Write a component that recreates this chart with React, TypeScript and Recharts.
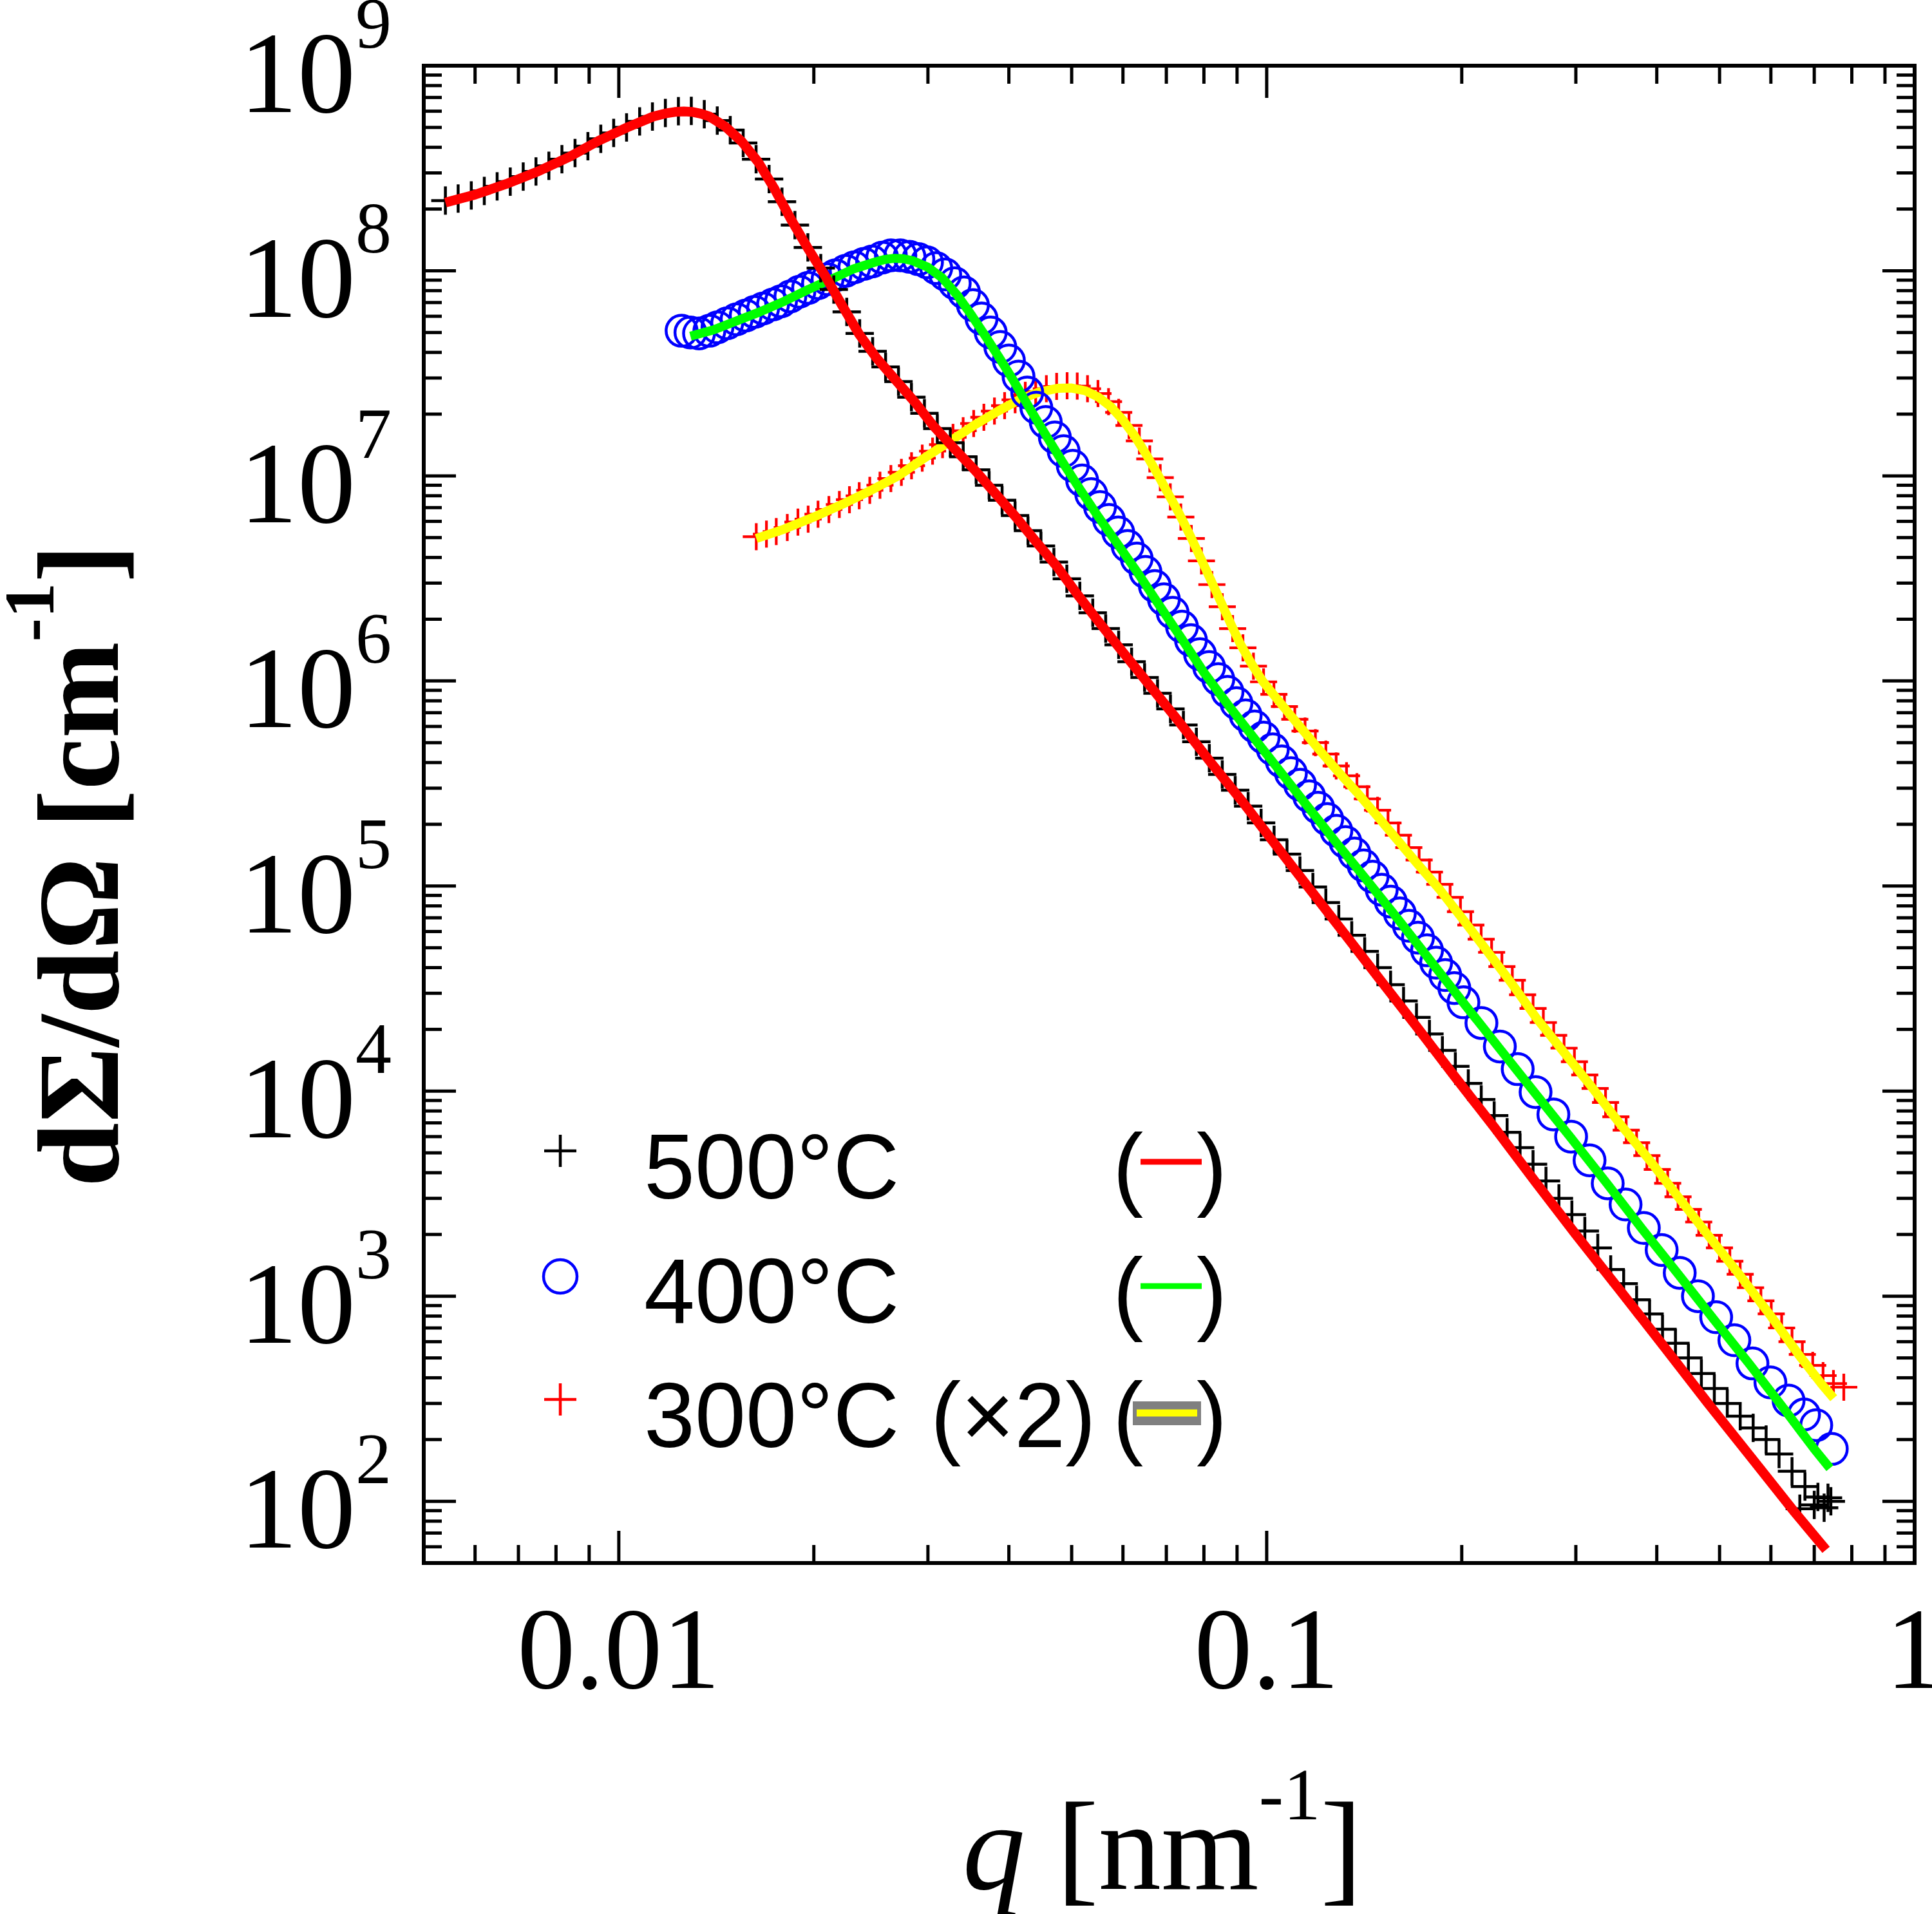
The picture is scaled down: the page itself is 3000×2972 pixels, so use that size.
import React from 'react';
import { ComposedChart, XAxis, YAxis, Scatter } from 'recharts';

const W = 3000;
const H = 2972;
const SERIF = "'Liberation Serif', 'Times New Roman', serif";
const SANS = "'Liberation Sans', Arial, sans-serif";

// ---- axis ticks ----
const xMajorTicks = [0.01, 0.1, 1];
const xMajorLabels = ['0.01', '0.1', '1'];
const minorMultipliers = [2, 3, 4, 5, 6, 7, 8, 9];
const xMinorDecades = [0.001, 0.01, 0.1];
const yMajorTicks = [1e2, 1e3, 1e4, 1e5, 1e6, 1e7, 1e8, 1e9];
const yMajorExponents = ['2', '3', '4', '5', '6', '7', '8', '9'];
const yMinorDecades = [10, 1e2, 1e3, 1e4, 1e5, 1e6, 1e7, 1e8];

const xMinorTicks: number[] = [];
xMinorDecades.forEach((d) => minorMultipliers.forEach((m) => {
  const v = d * m;
  if (v > 0.0051 && v < 1) xMinorTicks.push(v);
}));
const yMinorTicks: number[] = [];
yMinorDecades.forEach((d) => minorMultipliers.forEach((m) => {
  const v = d * m;
  if (v > 51 && v < 1e9) yMinorTicks.push(v);
}));
const xTicks = [...xMinorTicks, ...xMajorTicks];
const yTicks = [...yMinorTicks, ...yMajorTicks];

// ---- 500 °C data (black +) ----
const q500 = [0.0054, 0.00565, 0.00592, 0.0062, 0.00649, 0.0068, 0.00712, 0.00745, 0.0078, 0.00817, 0.00856, 0.00896, 0.00938, 0.00982, 0.01028, 0.01077, 0.01127, 0.0118, 0.01236, 0.01294, 0.01355, 0.01419, 0.01486, 0.01556, 0.01629, 0.01706, 0.01786, 0.0187, 0.01958, 0.0205, 0.02147, 0.02248, 0.02354, 0.02465, 0.02581, 0.02702, 0.02829, 0.02963, 0.03102, 0.03248, 0.03401, 0.03561, 0.03729, 0.03905, 0.04089, 0.04281, 0.04483, 0.04694, 0.04915, 0.05147, 0.05389, 0.05643, 0.05909, 0.06187, 0.06479, 0.06784, 0.07103, 0.07438, 0.07788, 0.08155, 0.08539, 0.08941, 0.09362, 0.09803, 0.10265, 0.10748, 0.11254, 0.11784, 0.12339, 0.1292, 0.13529, 0.14166, 0.14833, 0.15532, 0.16263, 0.17029, 0.17831, 0.18671, 0.1955, 0.20471, 0.21435, 0.22444, 0.23501, 0.24608, 0.25767, 0.2698, 0.28251, 0.29581, 0.30974, 0.32433, 0.3396, 0.3556, 0.37234, 0.38988, 0.40824, 0.42746, 0.4476, 0.46868, 0.49075, 0.51386, 0.53806, 0.5634, 0.58993, 0.61771, 0.6468, 0.67726, 0.70916, 0.74255, 0.665, 0.70, 0.725, 0.735];
const i500 = [2.2e8, 2.25e8, 2.33e8, 2.45e8, 2.58e8, 2.72e8, 2.88e8, 3.05e8, 3.25e8, 3.5e8, 3.75e8, 4.05e8, 4.4e8, 4.7e8, 5.0e8, 5.35e8, 5.65e8, 5.88e8, 6.0e8, 6.02e8, 5.8e8, 5.4e8, 4.85e8, 4.2e8, 3.5e8, 2.8e8, 2.17e8, 1.67e8, 1.3e8, 1.03e8, 8.1e7, 6.3e7, 4.95e7, 4.05e7, 3.4e7, 2.88e7, 2.42e7, 2.02e7, 1.7e7, 1.45e7, 1.24e7, 1.07e7, 9.0e6, 7.6e6, 6.4e6, 5.4e6, 4.55e6, 3.8e6, 3.15e6, 2.6e6, 2.15e6, 1.8e6, 1.5e6, 1.24e6, 1.04e6, 8.7e5, 7.3e5, 6.1e5, 5.05e5, 4.2e5, 3.5e5, 2.93e5, 2.45e5, 2.03e5, 1.68e5, 1.43e5, 1.19e5, 9.9e4, 8.3e4, 6.9e4, 5.75e4, 4.8e4, 4.0e4, 3.3e4, 2.75e4, 2.29e4, 1.9e4, 1.58e4, 1.32e4, 1.09e4, 9.1e3, 7.6e3, 6.3e3, 5.3e3, 4.4e3, 3.65e3, 3.0e3, 2.5e3, 2.08e3, 1.72e3, 1.35e3, 1.15e3, 960, 820, 690, 590, 500, 420, 355, 300, 260, 228, 200, 170, 140, 118, 105, 100, 92, 96, 93, 104];

// ---- 500 °C fit (red line) ----
const qFit500 = [0.0054, 0.0060, 0.0067, 0.0075, 0.0084, 0.0093, 0.0103, 0.0113, 0.0118, 0.0122, 0.0126, 0.0130, 0.0134, 0.0138, 0.0146, 0.0155, 0.0164, 0.0174, 0.0185, 0.0196, 0.0208, 0.0221, 0.0235, 0.0250, 0.0267, 0.0286, 0.0306, 0.0330, 0.0355, 0.0380, 0.0410, 0.0440, 0.0475, 0.0510, 0.0550, 0.0600, 0.0660, 0.0730, 0.0820, 0.0920, 0.1030, 0.1150, 0.1300, 0.1480, 0.1700, 0.1950, 0.2250, 0.2600, 0.3000, 0.3500, 0.4100, 0.4800, 0.5600, 0.6500, 0.7300];
const iFit500 = [2.15e8, 2.35e8, 2.65e8, 3.05e8, 3.6e8, 4.3e8, 5.0e8, 5.65e8, 5.85e8, 5.95e8, 5.98e8, 5.95e8, 5.83e8, 5.65e8, 5.05e8, 4.25e8, 3.4e8, 2.5e8, 1.75e8, 1.28e8, 9.5e7, 6.8e7, 4.9e7, 3.75e7, 2.95e7, 2.3e7, 1.75e7, 1.35e7, 1.06e7, 8.3e6, 6.3e6, 4.8e6, 3.6e6, 2.65e6, 1.95e6, 1.38e6, 9.5e5, 6.4e5, 4.0e5, 2.55e5, 1.6e5, 1.02e5, 6.2e4, 3.65e4, 2.08e4, 1.18e4, 6.6e3, 3.6e3, 2.0e3, 1.08e3, 570, 300, 163, 90, 58];

// ---- 400 °C data (blue circles) ----
const q400 = [0.0125, 0.0129, 0.0133, 0.0138, 0.0142, 0.0147, 0.0152, 0.0157, 0.0162, 0.0167, 0.0173, 0.0178, 0.0184, 0.0190, 0.0196, 0.0203, 0.0210, 0.0216, 0.0224, 0.0231, 0.0239, 0.0246, 0.0255, 0.0263, 0.0272, 0.0281, 0.0290, 0.0299, 0.0309, 0.0319, 0.0330, 0.0341, 0.0352, 0.0363, 0.0375, 0.0388, 0.0400, 0.0414, 0.0427, 0.0441, 0.0456, 0.0471, 0.0486, 0.0502, 0.0519, 0.0536, 0.0553, 0.0571, 0.0590, 0.0610, 0.0630, 0.0650, 0.0672, 0.0694, 0.0716, 0.0740, 0.0764, 0.0789, 0.0815, 0.0842, 0.0870, 0.0898, 0.0928, 0.0958, 0.0989, 0.1022, 0.1055, 0.1090, 0.1126, 0.1163, 0.1201, 0.1240, 0.1281, 0.1323, 0.1366, 0.1411, 0.1457, 0.1505, 0.1554, 0.1605, 0.1658, 0.1712, 0.1768, 0.1826, 0.1886, 0.1948, 0.2012, 0.2145, 0.2290, 0.2440, 0.2600, 0.2770, 0.2950, 0.3150, 0.3360, 0.3580, 0.3820, 0.4070, 0.4340, 0.4630, 0.4940, 0.5270, 0.5620, 0.5990, 0.6390, 0.6750, 0.7050, 0.7450];
const i400 = [5.1e7, 5.0e7, 4.95e7, 5.1e7, 5.3e7, 5.55e7, 5.8e7, 6.05e7, 6.3e7, 6.55e7, 6.85e7, 7.1e7, 7.5e7, 7.9e7, 8.25e7, 8.7e7, 9.1e7, 9.5e7, 1.0e8, 1.04e8, 1.08e8, 1.11e8, 1.16e8, 1.19e8, 1.19e8, 1.17e8, 1.14e8, 1.1e8, 1.03e8, 9.6e7, 8.7e7, 7.85e7, 6.8e7, 5.85e7, 5.0e7, 4.25e7, 3.65e7, 3.05e7, 2.55e7, 2.15e7, 1.83e7, 1.54e7, 1.32e7, 1.12e7, 9.5e6, 8.15e6, 7.05e6, 6.1e6, 5.3e6, 4.55e6, 3.95e6, 3.4e6, 2.9e6, 2.5e6, 2.15e6, 1.84e6, 1.58e6, 1.35e6, 1.17e6, 1.02e6, 8.85e5, 7.8e5, 6.8e5, 6.0e5, 5.3e5, 4.64e5, 4.05e5, 3.55e5, 3.12e5, 2.74e5, 2.41e5, 2.12e5, 1.86e5, 1.64e5, 1.44e5, 1.26e5, 1.11e5, 9.6e4, 8.4e4, 7.35e4, 6.4e4, 5.6e4, 4.86e4, 4.23e4, 3.68e4, 3.18e4, 2.71e4, 2.15e4, 1.65e4, 1.28e4, 9.9e3, 7.7e3, 6.0e3, 4.6e3, 3.55e3, 2.8e3, 2.15e3, 1.68e3, 1.3e3, 1.0e3, 790, 610, 470, 380, 310, 265, 235, 180];

// ---- 400 °C fit (green line) ----
const qFit400 = [0.0129, 0.0140, 0.0152, 0.0165, 0.0180, 0.0196, 0.0213, 0.0230, 0.0248, 0.0257, 0.0266, 0.0275, 0.0284, 0.0300, 0.0316, 0.0333, 0.0350, 0.0368, 0.0387, 0.0407, 0.0430, 0.0455, 0.0483, 0.0515, 0.0550, 0.0590, 0.0635, 0.0685, 0.0740, 0.0800, 0.0870, 0.0950, 0.1040, 0.1150, 0.1280, 0.1430, 0.1600, 0.1800, 0.2030, 0.2300, 0.2600, 0.2950, 0.3350, 0.3800, 0.4300, 0.4900, 0.5550, 0.6300, 0.7000, 0.7400];
const iFit400 = [4.8e7, 5.15e7, 5.7e7, 6.3e7, 7.1e7, 8.1e7, 9.1e7, 1.02e8, 1.1e8, 1.135e8, 1.15e8, 1.145e8, 1.12e8, 1.04e8, 9.2e7, 7.6e7, 6.1e7, 4.8e7, 3.75e7, 2.9e7, 2.15e7, 1.6e7, 1.18e7, 8.6e6, 6.3e6, 4.6e6, 3.3e6, 2.3e6, 1.6e6, 1.1e6, 7.7e5, 5.4e5, 3.75e5, 2.5e5, 1.63e5, 1.06e5, 6.8e4, 4.22e4, 2.6e4, 1.58e4, 9.7e3, 5.9e3, 3.55e3, 2.12e3, 1.3e3, 770, 470, 280, 180, 145];

// ---- 300 °C (x2) data (red +) ----
const q300 = [0.0163, 0.0169, 0.0175, 0.0182, 0.0189, 0.0196, 0.0203, 0.0211, 0.0219, 0.0227, 0.0235, 0.0244, 0.0253, 0.0263, 0.0273, 0.0283, 0.0294, 0.0305, 0.0316, 0.0328, 0.0340, 0.0353, 0.0366, 0.0380, 0.0394, 0.0409, 0.0424, 0.0440, 0.0457, 0.0474, 0.0492, 0.0510, 0.0529, 0.0549, 0.0570, 0.0591, 0.0613, 0.0636, 0.0660, 0.0685, 0.0710, 0.0737, 0.0765, 0.0793, 0.0823, 0.0854, 0.0886, 0.0919, 0.0954, 0.0989, 0.1026, 0.1065, 0.1105, 0.1146, 0.1189, 0.1234, 0.1280, 0.1328, 0.1378, 0.1430, 0.1483, 0.1539, 0.1597, 0.1657, 0.1719, 0.1783, 0.1850, 0.1919, 0.1991, 0.2066, 0.2143, 0.2224, 0.2307, 0.2394, 0.2483, 0.2577, 0.2673, 0.2773, 0.2877, 0.2985, 0.3097, 0.3213, 0.3334, 0.3459, 0.3588, 0.3723, 0.3862, 0.4007, 0.4158, 0.4314, 0.4475, 0.4643, 0.4818, 0.4998, 0.5186, 0.5380, 0.5582, 0.5791, 0.6008, 0.6234, 0.6468, 0.6710, 0.6962, 0.7223, 0.7494, 0.7775];
const i300 = [5.05e6, 5.2e6, 5.35e6, 5.6e6, 5.95e6, 6.15e6, 6.5e6, 6.85e6, 7.25e6, 7.65e6, 8.0e6, 8.5e6, 9.0e6, 9.7e6, 1.04e7, 1.12e7, 1.22e7, 1.32e7, 1.42e7, 1.54e7, 1.66e7, 1.8e7, 1.93e7, 2.07e7, 2.2e7, 2.35e7, 2.47e7, 2.58e7, 2.66e7, 2.73e7, 2.75e7, 2.74e7, 2.66e7, 2.52e7, 2.3e7, 2.04e7, 1.76e7, 1.48e7, 1.21e7, 9.8e6, 7.9e6, 6.3e6, 4.95e6, 3.85e6, 2.95e6, 2.3e6, 1.8e6, 1.45e6, 1.18e6, 9.9e5, 8.6e5, 7.5e5, 6.5e5, 5.7e5, 5.0e5, 4.4e5, 3.85e5, 3.45e5, 3.05e5, 2.66e5, 2.34e5, 2.03e5, 1.77e5, 1.54e5, 1.34e5, 1.17e5, 1.02e5, 8.8e4, 7.5e4, 6.45e4, 5.5e4, 4.75e4, 4.05e4, 3.47e4, 2.95e4, 2.53e4, 2.16e4, 1.87e4, 1.62e4, 1.39e4, 1.2e4, 1.03e4, 8.8e3, 7.5e3, 6.45e3, 5.6e3, 4.85e3, 4.15e3, 3.55e3, 3.05e3, 2.65e3, 2.3e3, 1.98e3, 1.72e3, 1.48e3, 1.28e3, 1.1e3, 950, 820, 700, 600, 520, 460, 410, 375, 360];

// ---- 300 °C fit (yellow line) ----
const qFit300 = [0.0163, 0.0180, 0.0200, 0.0222, 0.0245, 0.0270, 0.0296, 0.0325, 0.0355, 0.0385, 0.0415, 0.0445, 0.0475, 0.0500, 0.0525, 0.0550, 0.0575, 0.0600, 0.0625, 0.0650, 0.0675, 0.0700, 0.0730, 0.0760, 0.0790, 0.0820, 0.0850, 0.0880, 0.0910, 0.0945, 0.0985, 0.1030, 0.1080, 0.1140, 0.1210, 0.1290, 0.1380, 0.1480, 0.1590, 0.1710, 0.1850, 0.2000, 0.2180, 0.2380, 0.2600, 0.2850, 0.3150, 0.3500, 0.3900, 0.4350, 0.4850, 0.5400, 0.6000, 0.6650, 0.7200, 0.7500];
const iFit300 = [4.95e6, 5.5e6, 6.3e6, 7.3e6, 8.5e6, 1.0e7, 1.22e7, 1.48e7, 1.78e7, 2.07e7, 2.35e7, 2.56e7, 2.67e7, 2.68e7, 2.6e7, 2.42e7, 2.17e7, 1.87e7, 1.57e7, 1.29e7, 1.05e7, 8.5e6, 6.7e6, 5.2e6, 4.0e6, 3.1e6, 2.42e6, 1.9e6, 1.52e6, 1.23e6, 1.0e6, 8.4e5, 7.0e5, 5.7e5, 4.55e5, 3.6e5, 2.85e5, 2.2e5, 1.68e5, 1.28e5, 9.6e4, 7.0e4, 4.9e4, 3.4e4, 2.3e4, 1.6e4, 1.08e4, 7.0e3, 4.6e3, 2.95e3, 1.9e3, 1.24e3, 800, 510, 370, 318];

const zip = (qs: number[], is: number[]) => qs.map((q, k) => ({ q, I: is[k] }));
const d500 = zip(q500, i500);
const f500 = zip(qFit500, iFit500);
const d400 = zip(q400, i400);
const f400 = zip(qFit400, iFit400);
const d300 = zip(q300, i300);
const f300 = zip(qFit300, iFit300);

// ---- tick renderers (inward ticks, outside labels) ----
const MAJOR = 50;
const MINOR = 28;
const TICK_W = 5;

const BottomTick = (props: any) => {
  const { x, y, payload } = props;
  const idx = xMajorTicks.indexOf(payload.value);
  const len = idx >= 0 ? MAJOR : MINOR;
  return (
    <g>
      <line x1={x} x2={x} y1={y} y2={y - len} stroke="#000" strokeWidth={TICK_W} />
      {idx >= 0 && (
        <text x={x} y={y + 194} textAnchor="middle" fontFamily={SERIF} fontSize={180} fill="#000">
          {xMajorLabels[idx]}
        </text>
      )}
    </g>
  );
};

const TopTick = (props: any) => {
  const { x, y, payload } = props;
  const len = xMajorTicks.indexOf(payload.value) >= 0 ? MAJOR : MINOR;
  return <line x1={x} x2={x} y1={y} y2={y + len} stroke="#000" strokeWidth={TICK_W} />;
};

const LeftTick = (props: any) => {
  const { x, y, payload } = props;
  const idx = yMajorTicks.indexOf(payload.value);
  const len = idx >= 0 ? MAJOR : MINOR;
  return (
    <g>
      <line x1={x} x2={x + len} y1={y} y2={y} stroke="#000" strokeWidth={TICK_W} />
      {idx >= 0 && (
        <text x={x - 50} y={y + 72} textAnchor="end" fontFamily={SERIF} fill="#000">
          <tspan fontSize={180}>10</tspan>
          <tspan fontSize={112} dy={-100}>{yMajorExponents[idx]}</tspan>
        </text>
      )}
    </g>
  );
};

const RightTick = (props: any) => {
  const { x, y, payload } = props;
  const len = yMajorTicks.indexOf(payload.value) >= 0 ? MAJOR : MINOR;
  return <line x1={x} x2={x - len} y1={y} y2={y} stroke="#000" strokeWidth={TICK_W} />;
};

// ---- marker shapes ----
const PlusMark = ({ cx, cy, color, half, sw }: any) => (
  <g stroke={color} strokeWidth={sw} fill="none">
    <line x1={cx - half} x2={cx + half} y1={cy} y2={cy} />
    <line x1={cx} x2={cx} y1={cy - half} y2={cy + half} />
  </g>
);
const CircleMark = ({ cx, cy, r, sw }: any) => (
  <circle cx={cx} cy={cy} r={r} fill="none" stroke="#0000ff" strokeWidth={sw} />
);
const NoMark = () => <g />;

const axisLineStyle = { stroke: '#000', strokeWidth: 6, strokeLinecap: 'square' as const };

const legendRows = [
  { label: '500°C', extra: '', marker: 'blackPlus', line: '#ff0000' },
  { label: '400°C', extra: '', marker: 'blueCircle', line: '#00ff00' },
  { label: '300°C', extra: '(×2)', marker: 'redPlus', line: 'yellowGray' },
];

const LegendOverlay = () => (
  <g>
    {legendRows.map((row, k) => {
      const yb = 1861 + 193 * k;
      const my = yb - 74;
      return (
        <g key={row.label}>
          {row.marker === 'blackPlus' && <PlusMark cx={870} cy={my} color="#000" half={25} sw={4.5} />}
          {row.marker === 'redPlus' && <PlusMark cx={870} cy={my} color="#ff0000" half={25} sw={4.5} />}
          {row.marker === 'blueCircle' && <CircleMark cx={870} cy={my + 2} r={26} sw={4.5} />}
          <text x={1000} y={yb} fontFamily={SANS} fontSize={142} fill="#000">{row.label}</text>
          {row.extra && (
            <text x={1445} y={yb} fontFamily={SANS} fontSize={142} fill="#000">{row.extra}</text>
          )}
          <text x={1728} y={yb} fontFamily={SANS} fontSize={142} fill="#000">(</text>
          <text x={1858} y={yb} fontFamily={SANS} fontSize={142} fill="#000">)</text>
          {row.line === 'yellowGray' ? (
            <g>
              <rect x={1759} y={yb - 71} width={106} height={37} fill="#808080" />
              <line x1={1765} x2={1859} y1={yb - 53} y2={yb - 53} stroke="#ffff00" strokeWidth={11} />
            </g>
          ) : (
            <line x1={1771} x2={1866} y1={yb - 57} y2={yb - 57} stroke={row.line} strokeWidth={9} />
          )}
        </g>
      );
    })}
    <text transform="rotate(-90)" x={-1344} y={183} textAnchor="middle" fontFamily={SERIF} fontWeight="bold" fontSize={180} fill="#000">
      dΣ/dΩ [cm<tspan fontSize={110} dy={-100}>-1</tspan><tspan dy={100}>]</tspan>
    </text>
    <text x={1805} y={2933} textAnchor="middle" fontFamily={SERIF} fontSize={195} fill="#000">
      <tspan fontStyle="italic">q</tspan> [nm<tspan fontSize={115} dy={-108}>-1</tspan><tspan dy={108}>]</tspan>
    </text>
  </g>
);

const fitLine = (color: string, width: number) => ({
  stroke: color, strokeWidth: width, strokeLinejoin: 'round' as const, strokeLinecap: 'butt' as const, fill: 'none',
});

export default function App() {
  return (
    <div style={{ position: 'absolute', left: 0, top: 0, width: W, height: H, background: '#fff' }}>
      <ComposedChart width={W} height={H} margin={{ top: 101, right: 26, bottom: 0, left: 0 }}>
        <XAxis xAxisId="b" orientation="bottom" dataKey="q" type="number" scale="log" domain={[0.005, 1]} allowDataOverflow ticks={xTicks} interval={0} tickSize={0} tickMargin={0} tick={<BottomTick />} tickLine={false} axisLine={axisLineStyle} height={545} />
        <XAxis xAxisId="t" orientation="top" dataKey="q" type="number" scale="log" domain={[0.005, 1]} allowDataOverflow ticks={xTicks} interval={0} tickSize={0} tickMargin={0} tick={<TopTick />} tickLine={false} axisLine={axisLineStyle} height={1} />
        <YAxis yAxisId="l" orientation="left" dataKey="I" type="number" scale="log" domain={[50, 1e9]} allowDataOverflow ticks={yTicks} interval={0} tickSize={0} tickMargin={0} tick={<LeftTick />} tickLine={false} axisLine={axisLineStyle} width={658} />
        <YAxis yAxisId="r" orientation="right" dataKey="I" type="number" scale="log" domain={[50, 1e9]} allowDataOverflow ticks={yTicks} interval={0} tickSize={0} tickMargin={0} tick={<RightTick />} tickLine={false} axisLine={axisLineStyle} width={1} />

        <Scatter name="300 data" xAxisId="b" yAxisId="l" data={d300} isAnimationActive={false}
          shape={(p: any) => <PlusMark cx={p.cx} cy={p.cy} color="#ff0000" half={21} sw={4.2} />} />
        <Scatter name="300 fit" xAxisId="b" yAxisId="l" data={f300} isAnimationActive={false}
          line={fitLine('#ffff00', 14)} lineType="joint" shape={NoMark} />

        <Scatter name="400 data" xAxisId="b" yAxisId="l" data={d400} isAnimationActive={false}
          shape={(p: any) => <CircleMark cx={p.cx} cy={p.cy} r={24} sw={4.5} />} />
        <Scatter name="400 fit" xAxisId="b" yAxisId="l" data={f400} isAnimationActive={false}
          line={fitLine('#00ff00', 14)} lineType="joint" shape={NoMark} />

        <Scatter name="500 data" xAxisId="b" yAxisId="l" data={d500} isAnimationActive={false}
          shape={(p: any) => <PlusMark cx={p.cx} cy={p.cy} color="#000" half={22} sw={4.5} />} />
        <Scatter name="500 fit" xAxisId="b" yAxisId="l" data={f500} isAnimationActive={false}
          line={fitLine('#ff0000', 15)} lineType="joint" shape={NoMark} />
      </ComposedChart>
      <svg width={W} height={H} style={{ position: 'absolute', left: 0, top: 0, pointerEvents: 'none' }}>
        <LegendOverlay />
      </svg>
    </div>
  );
}
